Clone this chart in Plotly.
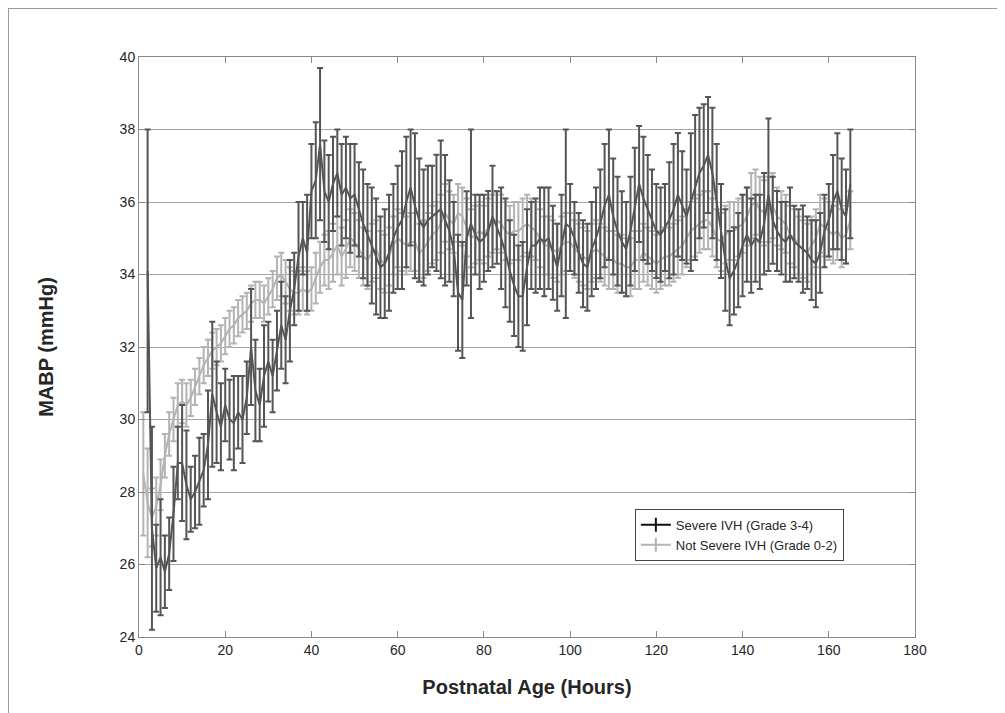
import plotly.graph_objects as go

# Postnatal age (hours)
hours_severe = list(range(2, 166))
hours_not = list(range(1, 166))

# Severe IVH (Grade 3-4) mean MABP, h2..h165
mabp_severe = [
    34.1, 27.0, 25.9, 26.2, 25.8, 26.3, 27.4, 28.8, 28.8, 28.2,
    27.8, 28.0, 28.3, 28.6, 29.3, 30.7, 30.2, 29.8, 30.4, 30.0,
    29.9, 30.2, 30.0, 30.6, 32.0, 30.8, 30.4, 31.2, 31.6, 31.2,
    31.9, 32.6, 32.2, 33.0, 33.6, 34.5, 35.0, 34.6, 36.3, 36.6,
    37.6, 36.3, 36.0, 36.5, 36.8, 36.2, 36.4, 36.1, 36.2, 35.8,
    35.4, 35.1, 34.8, 34.5, 34.2, 34.3, 34.6, 35.0, 35.3, 35.5,
    36.0, 36.4, 35.9, 35.5, 35.3, 35.5, 35.6, 35.7, 35.8, 35.5,
    35.2, 34.7, 33.5, 33.3, 35.0, 35.4, 35.1, 34.9, 35.0, 35.2,
    35.6, 35.3, 35.0, 34.6, 34.1, 33.7, 33.4, 33.4, 34.2, 34.8,
    34.8, 35.0, 34.9, 35.0, 34.6, 34.2, 34.8, 35.4, 35.3, 35.0,
    34.6, 34.3, 34.2, 34.7, 35.0, 35.4, 35.9, 36.2, 35.6, 35.2,
    34.9, 34.7, 35.2, 35.8, 36.5, 36.1, 35.8, 35.5, 35.2, 35.1,
    35.3, 35.5, 35.8, 36.2, 35.9, 35.6, 36.0, 36.4, 36.8, 37.0,
    37.3, 36.8, 36.0, 35.2, 34.4, 33.9, 34.1, 34.4, 34.8, 35.1,
    34.8, 35.0, 34.9, 35.4, 36.2, 35.5, 35.2, 35.0, 34.9, 35.1,
    34.9, 34.8, 34.7, 34.6, 34.4, 34.3, 34.6, 35.2, 35.5, 36.0,
    36.3, 35.8, 35.6, 36.5,
]
err_severe = [
    3.9, 2.8, 1.2, 1.6, 1.0, 1.0, 1.3, 1.0, 1.6, 1.5,
    0.9, 1.0, 1.2, 1.0, 1.5, 2.0, 1.4, 1.2, 1.0, 1.1,
    1.3, 1.0, 1.2, 1.0, 1.6, 1.4, 1.0, 1.4, 1.1, 1.0,
    1.1, 1.2, 1.2, 1.4, 1.0, 1.5, 1.0, 1.6, 1.3, 1.6,
    2.1, 1.4, 1.3, 1.3, 1.2, 1.4, 1.4, 1.5, 1.4, 1.3,
    1.5, 1.4, 1.6, 1.6, 1.4, 1.5, 1.6, 1.5, 1.7, 1.9,
    1.8, 1.6, 2.0, 1.7, 1.6, 1.5, 1.4, 1.6, 1.9, 1.8,
    1.4, 1.3, 1.6, 1.6, 1.3, 2.6, 1.1, 1.3, 1.2, 1.1,
    1.4, 1.0, 1.4, 1.5, 1.4, 1.4, 1.4, 1.5, 1.6, 1.2,
    1.3, 1.4, 1.5, 1.4, 1.3, 1.2, 1.4, 2.6, 1.2, 1.0,
    1.1, 1.2, 1.2, 1.3, 1.4, 1.5, 1.7, 1.8, 1.6, 1.5,
    1.4, 1.3, 1.5, 1.7, 1.6, 1.7, 1.5, 1.4, 1.3, 1.3,
    1.2, 1.6, 1.8, 1.7, 1.5, 1.3, 1.9, 2.0, 1.8, 1.7,
    1.6, 1.8, 1.6, 1.3, 1.4, 1.3, 1.2, 1.3, 1.4, 1.3,
    1.3, 1.2, 1.3, 1.4, 2.1, 1.2, 1.1, 1.0, 1.1, 1.3,
    1.0, 1.0, 1.2, 1.0, 1.1, 1.2, 1.1, 1.0, 1.0, 1.3,
    1.6, 1.4, 1.3, 1.5,
]

# Not Severe IVH (Grade 0-2) mean MABP, h1..h165
mabp_not = [
    28.5, 27.7, 27.3, 27.6, 28.2, 29.0, 29.6, 30.0, 30.4, 30.5,
    30.4, 30.6, 30.9, 31.2, 31.5, 31.7, 31.9, 32.0, 32.1, 32.3,
    32.5, 32.6, 32.8, 32.9, 33.0, 33.2, 33.3, 33.3, 33.2, 33.4,
    33.6, 33.9, 34.0, 33.8, 33.6, 33.5, 33.5, 33.6, 33.5, 33.6,
    33.9, 34.2, 34.4, 34.4, 34.6, 34.8, 34.5, 34.7, 35.0, 34.9,
    34.7, 34.5, 34.4, 34.6, 34.7, 34.4, 34.3, 34.5, 34.8, 35.0,
    34.9, 34.8, 34.9, 34.9, 34.6, 34.7, 34.9, 35.1, 35.2, 35.4,
    35.7, 35.5, 35.4, 35.7, 35.6, 35.3, 35.0, 35.1, 35.2, 35.1,
    35.3, 35.4, 35.5, 35.4, 35.2, 35.1, 35.2, 35.2, 35.3, 35.4,
    35.3, 35.2, 35.0, 34.8, 34.8, 34.7, 34.6, 34.8, 34.9, 34.9,
    34.7, 34.6, 34.5, 34.4, 34.6, 34.7, 34.6, 34.5, 34.4, 34.4,
    34.3, 34.3, 34.2, 34.2, 34.4, 34.4, 34.6, 34.5, 34.4, 34.3,
    34.4, 34.5, 34.5, 34.6, 34.7, 34.8, 35.0, 35.2, 35.3, 35.4,
    35.5, 35.5, 35.3, 35.0, 34.9, 35.1, 35.2, 35.2, 35.3, 35.4,
    35.6, 35.9, 36.0, 35.8, 35.7, 35.8, 35.9, 35.6, 35.5, 35.4,
    35.1, 35.0, 34.8, 34.7, 34.6, 34.8, 35.0, 35.4, 35.3, 35.2,
    35.1, 35.2, 35.0, 35.1, 35.5,
]
err_not = [
    1.7, 1.5, 0.8, 0.8, 0.7, 0.6, 0.6, 0.6, 0.6, 0.6,
    0.6, 0.5, 0.5, 0.5, 0.5, 0.5, 0.5, 0.5, 0.5, 0.5,
    0.5, 0.5, 0.5, 0.5, 0.5, 0.5, 0.5, 0.5, 0.5, 0.5,
    0.5, 0.6, 0.6, 0.6, 0.6, 0.6, 0.6, 0.6, 0.6, 0.6,
    0.7, 0.7, 0.7, 0.8, 0.8, 0.8, 0.8, 0.8, 0.8, 0.8,
    0.8, 0.8, 0.8, 0.8, 0.8, 0.8, 0.8, 0.8, 0.8, 0.8,
    0.8, 0.8, 0.8, 0.8, 0.8, 0.8, 0.8, 0.8, 0.8, 0.8,
    0.8, 0.8, 0.8, 0.8, 0.8, 0.8, 0.8, 0.8, 0.8, 0.8,
    0.8, 0.8, 0.8, 0.8, 0.8, 0.8, 0.8, 0.8, 0.8, 0.8,
    0.8, 0.8, 0.8, 0.8, 0.8, 0.8, 0.8, 0.8, 0.8, 0.8,
    0.8, 0.8, 0.8, 0.8, 0.8, 0.8, 0.8, 0.8, 0.8, 0.8,
    0.8, 0.8, 0.8, 0.8, 0.8, 0.8, 0.8, 0.8, 0.8, 0.8,
    0.8, 0.8, 0.8, 0.8, 0.8, 0.8, 0.8, 0.8, 0.8, 0.8,
    0.8, 0.8, 0.8, 0.8, 0.8, 0.8, 0.8, 0.8, 0.8, 0.8,
    0.8, 0.9, 0.9, 0.9, 0.9, 0.9, 0.9, 0.8, 0.8, 0.8,
    0.8, 0.8, 0.8, 0.8, 0.8, 0.8, 0.8, 0.8, 0.8, 0.8,
    0.8, 0.8, 0.8, 0.8, 0.8,
]

series_names = ["Severe IVH (Grade 3-4)", "Not Severe IVH (Grade 0-2)"]
x_ticks = [0, 20, 40, 60, 80, 100, 120, 140, 160, 180]
y_ticks = [24, 26, 28, 30, 32, 34, 36, 38, 40]

DARK = "#555555"
LIGHT = "#b3b3b3"
FONT = "Liberation Sans, Arial, Helvetica, sans-serif"

fig = go.Figure()

# Not severe first (drawn beneath)
fig.add_trace(go.Scatter(
    x=hours_not, y=mabp_not, mode="lines", showlegend=False,
    line=dict(color=LIGHT, width=2),
    error_y=dict(type="data", array=err_not, visible=True,
                 color=LIGHT, thickness=2, width=3),
))
fig.add_trace(go.Scatter(
    x=hours_severe, y=mabp_severe, mode="lines", showlegend=False,
    line=dict(color=DARK, width=2),
    error_y=dict(type="data", array=err_severe, visible=True,
                 color=DARK, thickness=2, width=3),
))

# Legend entries
fig.add_trace(go.Scatter(
    x=[None], y=[None], mode="lines+markers", name=series_names[0],
    line=dict(color="#111111", width=2),
    marker=dict(symbol="line-ns-open", size=10, color="#111111",
                line=dict(width=2, color="#111111")),
))
fig.add_trace(go.Scatter(
    x=[None], y=[None], mode="lines+markers", name=series_names[1],
    line=dict(color=LIGHT, width=2),
    marker=dict(symbol="line-ns-open", size=10, color=LIGHT,
                line=dict(width=2, color=LIGHT)),
))

fig.update_layout(
    width=997, height=705,
    margin=dict(l=131, r=90, t=49, b=76),
    paper_bgcolor="white", plot_bgcolor="white",
    font=dict(family=FONT, size=14, color="#262626"),
    showlegend=True,
    legend=dict(
        x=0.639, y=0.221, xanchor="left", yanchor="top",
        bgcolor="white", bordercolor="#444444", borderwidth=1,
        font=dict(family=FONT, size=13, color="#262626"),
        itemwidth=30, tracegroupgap=0,
    ),
    xaxis=dict(
        range=[0, 180], tickvals=x_ticks, ticktext=[str(v) for v in x_ticks],
        showgrid=False, zeroline=False,
        showline=True, linecolor="#888888", linewidth=1, mirror="ticks",
        ticks="inside", ticklen=6, tickcolor="#888888",
        tickfont=dict(size=14, color="#262626"),
        title=dict(text="<b>Postnatal Age (Hours)</b>",
                   font=dict(size=20, color="#262626"), standoff=23),
    ),
    yaxis=dict(
        range=[24, 40], tickvals=y_ticks, ticktext=[str(v) for v in y_ticks],
        showgrid=True, gridcolor="#a6a6a6", gridwidth=1, zeroline=False,
        showline=True, linecolor="#888888", linewidth=1, mirror="ticks",
        ticks="inside", ticklen=6, tickcolor="#888888",
        tickfont=dict(size=14, color="#262626"),
        title=dict(text="<b>MABP (mmHg)</b>",
                   font=dict(size=20, color="#262626"), standoff=60),
    ),
    shapes=[
        dict(type="line", xref="paper", yref="paper",
             x0=-0.1688, x1=1.12, y0=1.0836, y1=1.0836,
             line=dict(color="#999999", width=1)),
        dict(type="line", xref="paper", yref="paper",
             x0=-0.1682, x1=-0.1682, y0=1.0836, y1=-0.14,
             line=dict(color="#999999", width=1)),
    ],
)

fig.write_html("out.html")
